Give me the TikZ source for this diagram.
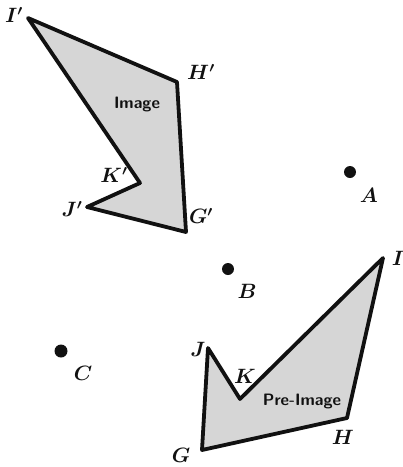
\documentclass[tikz,border=0pt]{standalone}
\usetikzlibrary{positioning}
\definecolor{Ink}{HTML}{111111}
\definecolor{Stipple}{HTML}{D6D6D6}
\begin{document}
\begin{tikzpicture}[x=1pt,y=-1pt,every node/.style={text=Ink},lbl/.style={font=\fontsize{22}{24}\selectfont\boldmath},tag/.style={font=\sffamily\bfseries\fontsize{16.5}{18}\selectfont},figure/.style={draw=Ink,line width=3.8pt,line join=round,fill=Stipple},pt/.style={fill=Ink}]
\useasboundingbox (0,0) rectangle (403,467);
% image
\coordinate (Ip) at (28,18); \coordinate (Hp) at (177,82); \coordinate (Gp) at (186,232); \coordinate (Jp) at (87,207); \coordinate (Kp) at (140,183);
\draw[figure] (Ip)--(Hp)--(Gp)--(Jp)--(Kp)--cycle;
\node[lbl] (lIp) at (14,15){$I'$}; \node[lbl] (lHp) at (201,72){$H'$}; \node[lbl] (lGp) at (201,216){$G'$}; \node[lbl] (lJp) at (72,209){$J'$}; \node[lbl] (lKp) at (114,175){$K'$};
\node[tag] (img) at (137,104){Image};
% pre-image
\coordinate (I) at (383,258); \coordinate (H) at (347,418); \coordinate (G) at (202,450); \coordinate (J) at (208,348); \coordinate (K) at (240,399);
\draw[figure] (I)--(H)--(G)--(J)--(K)--cycle;
\node[lbl] (lI) at (398,258){$I$}; \node[lbl] (lH) at (343,437){$H$}; \node[lbl] (lG) at (181,455){$G$}; \node[lbl] (lJ) at (198,349){$J$}; \node[lbl] (lK) at (245,376){$K$};
\node[tag] (pre) at (302,401){Pre-Image};
% centres
\fill[pt] (350,172) circle (6); \node[lbl] (lA) at (369,195){$A$};
\fill[pt] (228,269) circle (6); \node[lbl] (lB) at (247,291){$B$};
\fill[pt] (61,351) circle (6.5); \node[lbl] (lC) at (83,373){$C$};
\end{tikzpicture}
\end{document}
